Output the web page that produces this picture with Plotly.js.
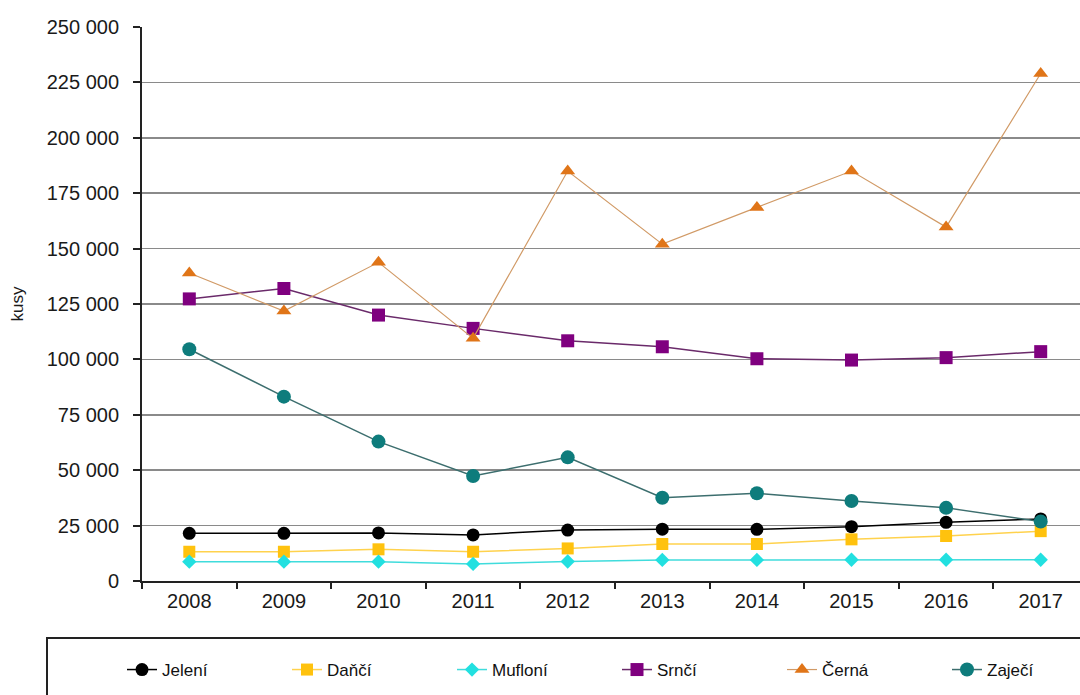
<!DOCTYPE html>
<html>
<head>
<meta charset="utf-8">
<script src="https://cdn.plot.ly/plotly-3.0.1.min.js"></script>
<style>html,body{margin:0;padding:0;background:#fff;overflow:hidden;width:1080px;height:695px}#chart{width:1110px;height:695px}</style>
</head>
<body>
<div id="chart"></div>
<script>
const years = ['2008','2009','2010','2011','2012','2013','2014','2015','2016','2017'];
const jeleni  = [21500, 21500, 21700, 20800, 23000, 23400, 23300, 24500, 26500, 28000];
const danci   = [13200, 13200, 14300, 13200, 14700, 16700, 16700, 18800, 20300, 22500];
const mufloni = [8700, 8700, 8700, 7700, 8800, 9500, 9500, 9600, 9600, 9600];
const srnci   = [127300, 132000, 120000, 114000, 108400, 105700, 100300, 99700, 100800, 103500];
const cerna   = [139000, 121800, 143800, 109500, 185000, 152000, 168600, 185000, 159700, 229000];
const zajeci  = [104600, 83200, 62900, 47400, 55800, 37600, 39600, 36100, 33000, 26800];
const names = ['Jelení','Daňčí','Mufloní','Srnčí','Černá','Zaječí'];

const mk = (y, name, lineColor, lineW, mColor, symbol, size) => ({
  x: years, y: y, name: name, type: 'scatter', mode: 'lines+markers',
  line: {color: lineColor, width: lineW},
  marker: {color: mColor, symbol: symbol, size: size}
});

const data = [
  mk(jeleni, names[0], '#000000', 1.5, '#000000', 'circle', 13),
  mk(danci, names[1], '#FFD24D', 1.5, '#FFC20E', 'square', 12),
  mk(mufloni, names[2], '#40DCDC', 1.5, '#22E0E0', 'diamond', 11),
  mk(srnci, names[3], '#6A2A6A', 1.5, '#7F007F', 'square', 13),
  mk(cerna, names[4], '#D19A66', 1.2, '#E07518', 'triangle-up', 13),
  mk(zajeci, names[5], '#3C6E6E', 1.5, '#0E7C7C', 'circle', 14)
];

const W = 946, H = 554;
const layout = {
  width: 1110, height: 695,
  margin: {l: 142, r: 22, t: 27, b: 114, autoexpand: false},
  paper_bgcolor: '#ffffff', plot_bgcolor: '#ffffff',
  separators: ', ',
  font: {family: 'Liberation Sans, Arial, sans-serif', size: 20, color: '#1a1a1a'},
  showlegend: true,
  xaxis: {
    type: 'category', range: [-0.5, 9.5],
    showline: true, linecolor: '#222', linewidth: 2,
    ticks: 'outside', tickson: 'boundaries', ticklen: 6, tickwidth: 2, tickcolor: '#222',
    showgrid: false, zeroline: false,
    tickfont: {size: 20}, ticklabelstandoff: 1
  },
  yaxis: {
    range: [0, 250000], dtick: 25000, tickformat: ',d',
    showline: true, linecolor: '#222', linewidth: 2,
    ticks: 'outside', ticklen: 7, tickwidth: 2, tickcolor: '#222',
    showgrid: true, gridcolor: '#8a8a8a', gridwidth: 1.5,
    zeroline: false, tickfont: {size: 20}, ticklabelstandoff: 10,
    title: {text: 'kusy', font: {size: 17}, standoff: 19}
  },
  legend: {
    orientation: 'h', xref: 'paper', yref: 'paper',
    x: (122-142)/W, xanchor: 'left', y: -(670-581)/H, yanchor: 'middle',
    bgcolor: 'rgba(0,0,0,0)', borderwidth: 0,
    font: {size: 17, color: '#111'},
    entrywidth: 120, entrywidthmode: 'pixels', itemwidth: 30
  },
  shapes: [{
    type: 'rect', xref: 'paper', yref: 'paper',
    x0: (47-142)/W, x1: 1.05, y0: -(700-581)/H, y1: -(638-581)/H,
    line: {color: '#222', width: 2}, fillcolor: 'rgba(0,0,0,0)', layer: 'below'
  }]
};

Plotly.newPlot('chart', data, layout, {displayModeBar: false, staticPlot: true});
</script>
</body>
</html>
